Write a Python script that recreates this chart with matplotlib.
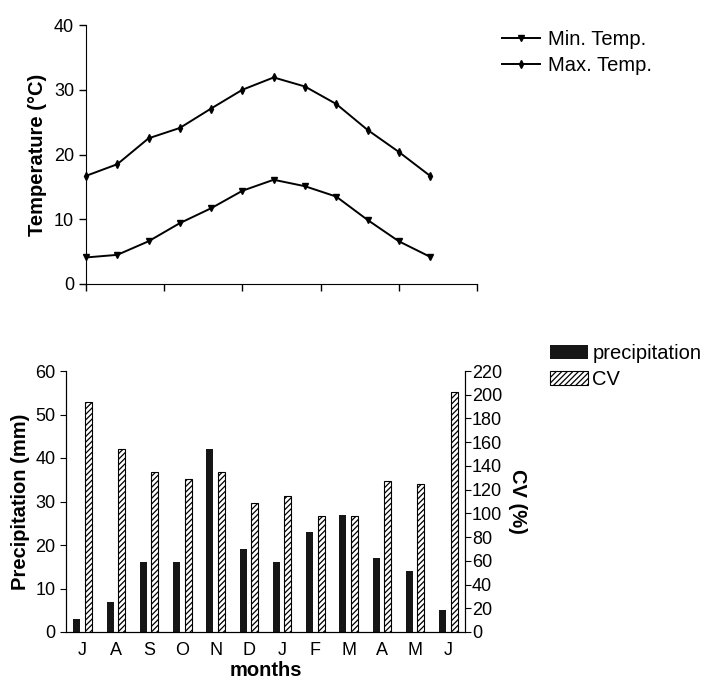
import matplotlib
matplotlib.use('Agg')
import matplotlib.pyplot as plt
import numpy as np

plt.rcParams['font.family'] = ['Liberation Sans', 'DejaVu Sans']
plt.rcParams['hatch.linewidth'] = 0.9

# ---- data ----
min_temp = [4.1, 4.5, 6.6, 9.4, 11.7, 14.4, 16.1, 15.1, 13.5, 9.9, 6.6, 4.2]
max_temp = [16.7, 18.5, 22.5, 24.1, 27.1, 30.0, 31.9, 30.5, 27.8, 23.8, 20.4, 16.7]
months = ['J', 'A', 'S', 'O', 'N', 'D', 'J', 'F', 'M', 'A', 'M', 'J']
precip = [3, 7, 16, 16, 42, 19, 16, 23, 27, 17, 14, 5]
cv = [194, 154, 135, 129, 135, 109, 115, 97.5, 97.5, 127, 124.5, 202]
temp_ticks = [0, 10, 20, 30, 40]
cv_ticks = list(range(0, 221, 20))

W, H = 714, 685
fig = plt.figure(figsize=(W / 100, H / 100), dpi=100)

# ---- top: temperature ----
ax1 = fig.add_axes([86 / W, 1 - 284 / H, (477 - 86) / W, (284 - 25) / H])
x = np.arange(len(min_temp))
ax1.plot(x, min_temp, color='black', lw=1.4, marker='v', ms=4, label='Min. Temp.', clip_on=False)
ax1.plot(x, max_temp, color='black', lw=1.4, marker='d', ms=4, label='Max. Temp.', clip_on=False)
ax1.set_xlim(0, 12.5)
ax1.set_ylim(0, 40)
ax1.set_xticks(np.arange(0, 12.6, 2.5))
ax1.set_xticklabels([])
ax1.set_yticks(temp_ticks)
for s in ['top', 'right']:
    ax1.spines[s].set_visible(False)
ax1.tick_params(direction='out', length=5, width=1, labelsize=13)
ax1.set_ylabel('Temperature (°C)', fontsize=14.5, fontweight='bold', labelpad=5)
ax1.legend(frameon=False, loc='upper left', bbox_to_anchor=(502 / W, 1 - 30 / H),
           bbox_transform=fig.transFigure, fontsize=14.5, handlelength=1.9,
           handletextpad=0.4, labelspacing=0.35, borderaxespad=0, borderpad=0)

# ---- bottom: precipitation & CV ----
ax2 = fig.add_axes([66 / W, 1 - 632 / H, (465 - 66) / W, (632 - 371) / H])
ax3 = ax2.twinx()
xb = np.arange(len(months))
b1 = ax2.bar(xb - 0.17, precip, width=0.21, color='#161616', label='precipitation')
b2 = ax3.bar(xb + 0.17, cv, width=0.21, facecolor='white', edgecolor='black',
             hatch='//////', lw=0.8, label='CV')
ax2.set_xlim(-0.5, 11.5)
ax2.set_ylim(0, 60)
ax3.set_ylim(0, 220)
ax2.set_xticks(xb)
ax2.set_xticklabels(months)
ax2.set_yticks(range(0, 61, 10))
ax3.set_yticks(cv_ticks)
ax2.tick_params(axis='x', length=0, pad=7, labelsize=13)
ax2.tick_params(axis='y', direction='out', length=4, labelsize=13)
ax3.tick_params(axis='y', direction='out', length=4, labelsize=13, pad=1)
for a in (ax2, ax3):
    a.spines['top'].set_visible(False)
ax2.set_ylabel('Precipitation (mm)', fontsize=14.5, fontweight='bold', labelpad=4)
ax3.set_ylabel('CV (%)', fontsize=14.5, fontweight='bold', rotation=270, labelpad=18)
ax2.set_xlabel('months', fontsize=14.5, fontweight='bold', labelpad=2)

fig.legend(handles=[b1, b2], labels=['precipitation', 'CV'], frameon=False,
           loc='upper left', bbox_to_anchor=(550 / W, 1 - 344 / H),
           fontsize=14.5, handlelength=1.9, handleheight=0.7, handletextpad=0.2,
           labelspacing=0.35, borderaxespad=0, borderpad=0)

fig.savefig('out.png', dpi=100)
